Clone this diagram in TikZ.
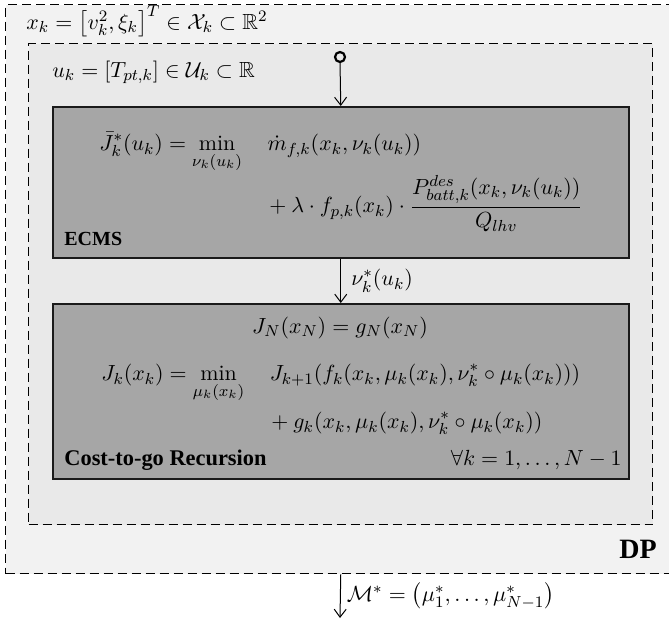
\documentclass[tikz,border=0pt]{standalone}
\usepackage{amsmath,amssymb}
\usepackage{fontspec}
\newfontfamily\lblfont{Liberation Serif}
\usetikzlibrary{arrows.meta}
\definecolor{outerbg}{HTML}{F2F2F2}
\definecolor{innerbg}{HTML}{E9E9E9}
\definecolor{boxbg}{HTML}{A6A6A6}
\definecolor{boxline}{HTML}{1A1A1A}
\begin{document}
\begin{tikzpicture}[x=0.5pt,y=-0.5pt,
  every node/.style={font=\fontsize{10.95}{13}\selectfont},
  dashbox/.style={draw=black, line width=0.65pt, dash pattern=on 4.5pt off 2.5pt, inner sep=0pt},
  procbox/.style={draw=boxline, line width=0.75pt, fill=boxbg, inner sep=0pt},
  sig/.style={line width=0.5pt, -{Straight Barb[length=4pt,width=6pt]}},
  boldlbl/.style={inner sep=0pt},
  mathlbl/.style={inner sep=0pt}]
\useasboundingbox (0,0) rectangle (669,621);
\fill[white] (0,0) rectangle (669,621);
% outer DP box
\node[dashbox, fill=outerbg, anchor=north west, minimum width=340pt, minimum height=284.5pt] (dp) at (5,4) {};
% inner box
\node[dashbox, fill=innerbg, anchor=north west, minimum width=312pt, minimum height=240.5pt] (inner) at (28,43) {};
% ECMS box
\node[procbox, anchor=north west, minimum width=288pt, minimum height=75.5pt] (ecms) at (52,106) {};
% Cost box
\node[procbox, anchor=north west, minimum width=288pt, minimum height=87.5pt] (cost) at (52,303) {};

\node[mathlbl, anchor=base west] (xlab) at (26,29) {$x_k = \bigl[v_k^2,\xi_k\bigr]^T \in \mathcal{X}_k \subset \mathbb{R}^2$};
\node[mathlbl, anchor=base west] (ulab) at (52,77) {$u_k = [T_{pt,k}] \in \mathcal{U}_k \subset \mathbb{R}$};

% ECMS content
\node[mathlbl, anchor=base west] (ecmsA) at (99,150.5) {$\displaystyle \bar J_k^*(u_k) = \min_{\nu_k(u_k)} \quad \dot m_{f,k}(x_k,\nu_k(u_k))$};
\node[mathlbl, anchor=base west] (ecmsB) at (269,212.5) {$\displaystyle +\mskip\medmuskip\lambda\cdot f_{p,k}(x_k)\cdot\frac{P^{des}_{batt,k}(x_k,\nu_k(u_k))}{Q_{lhv}}$};
\node[boldlbl, font=\lblfont\bfseries\fontsize{10}{12}\selectfont, anchor=base west] (ecmslbl) at (64,245) {ECMS};

% Cost-to-go content
\node[mathlbl, anchor=base] (jn) at (340,333.5) {$J_N(x_N) = g_N(x_N)$};
\node[mathlbl, anchor=base west] (costA) at (101,380.5) {$\displaystyle J_k(x_k) = \min_{\mu_k(x_k)} \quad J_{k+1}(f_k(x_k,\mu_k(x_k),\nu_k^*\circ\mu_k(x_k)))$};
\node[mathlbl, anchor=base west] (costB) at (271,428.5) {$\displaystyle +\mskip\medmuskip g_k(x_k,\mu_k(x_k),\nu_k^*\circ\mu_k(x_k))$};
\node[boldlbl, font=\lblfont\bfseries\fontsize{11.2}{13}\selectfont, anchor=base west] (costlbl) at (64,465) {Cost-to-go Recursion};
\node[mathlbl, anchor=base east] (forall) at (622,465) {$\forall k = 1,\ldots,N-1$};

\node[boldlbl, font=\lblfont\bfseries\fontsize{14}{16}\selectfont, anchor=base east] (dplbl) at (657,558) {DP};

% connectors
\coordinate (src) at (340,57);
\draw[line width=1.1pt] (src) circle[radius=5];
\draw[sig] ([yshift=-2.5pt]src) -- (ecms.north);
\draw[sig] (ecms.south) -- node[mathlbl, anchor=west, xshift=5pt] (nulab) {$\nu_k^*(u_k)$} (cost.north);
\coordinate (dpout) at (ecms.south |- dp.south);
\coordinate (out) at (340,618);
\draw[sig] (dpout) -- node[mathlbl, anchor=west, xshift=3pt] (mlab) {$\mathcal{M}^* = \bigl(\mu_1^*,\ldots,\mu_{N-1}^*\bigr)$} (out);
\end{tikzpicture}
\end{document}
